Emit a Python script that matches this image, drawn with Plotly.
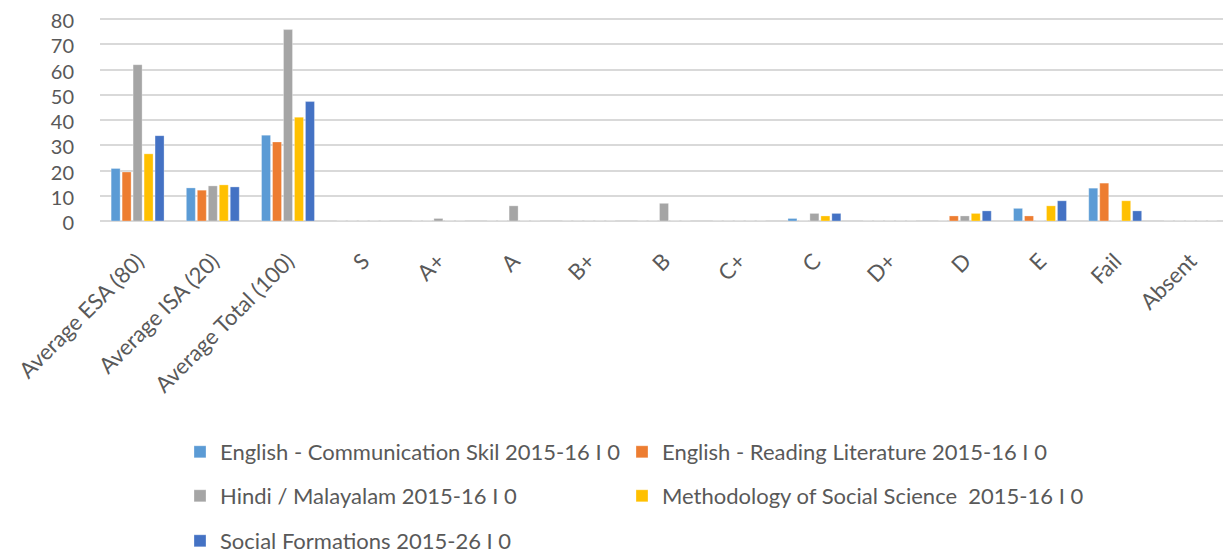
import plotly.graph_objects as go

categories = ["Average ESA (80)", "Average ISA (20)", "Average Total (100)", "S", "A+", "A", "B+", "B",
              "C+", "C", "D+", "D", "E", "Fail", "Absent"]

series_names = [
    "English - Communication Skil 2015-16 I 0",
    "English - Reading Literature 2015-16 I 0",
    "Hindi / Malayalam 2015-16 I 0",
    "Methodology of Social Science  2015-16 I 0",
    "Social Formations 2015-26 I 0",
]

eng_comm = [20.8, 13.1, 34.0, 0, 0, 0, 0, 0, 0, 1, 0, 0, 5, 13, 0]
eng_read = [19.4, 12.2, 31.3, 0, 0, 0, 0, 0, 0, 0, 0, 2, 2, 15, 0]
hindi = [61.9, 13.9, 75.8, 0, 1, 6, 0, 7, 0, 3, 0, 2, 0, 0, 0]
method = [26.6, 14.3, 41.1, 0, 0, 0, 0, 0, 0, 2, 0, 3, 6, 8, 0]
social = [33.8, 13.5, 47.3, 0, 0, 0, 0, 0, 0, 3, 0, 4, 8, 4, 0]

series_values = [eng_comm, eng_read, hindi, method, social]
colors = ["#5B9BD5", "#ED7D31", "#A5A5A5", "#FFC000", "#4472C4"]
legend_ids = ["legend", "legend2", "legend3", "legend4", "legend5"]

FONT = "Lato, Open Sans, sans-serif"

# page body has an 8px margin, so the figure is drawn 8px smaller and everything is offset
W, H = 1223, 548
L, R = 92, 3
plot_top = 10
plot_bottom = 213
h = plot_bottom - plot_top
pw = W - L - R

def ypos(py):
    return (plot_bottom - py) / h

def xpos(px):
    return (px - L) / pw

fig = go.Figure()
for name, vals, col, lg in zip(series_names, series_values, colors, legend_ids):
    fig.add_trace(go.Bar(
        x=categories, y=vals, name=name, legend=lg,
        marker=dict(color=col, line=dict(color="rgba(255,255,255,0.6)", width=0.5)),
    ))

legend_common = dict(
    orientation="v", xanchor="left", yanchor="middle",
    font=dict(family=FONT, size=22, color="#595959"),
    bgcolor="rgba(0,0,0,0)",
)

col1, col2 = xpos(172), xpos(614)
row1, row2, row3 = ypos(444), ypos(488), ypos(533)

fig.update_layout(
    width=W, height=H,
    margin=dict(l=L, r=R, t=plot_top, b=H - plot_bottom, autoexpand=False),
    plot_bgcolor="white", paper_bgcolor="white",
    barmode="group", bargap=0.27, bargroupgap=0.18,
    font=dict(family=FONT, size=22, color="#595959"),
    legend=dict(**legend_common, x=col1, y=row1),
    legend2=dict(**legend_common, x=col2, y=row1),
    legend3=dict(**legend_common, x=col1, y=row2),
    legend4=dict(**legend_common, x=col2, y=row2),
    legend5=dict(**legend_common, x=col1, y=row3),
    showlegend=True,
)
fig.update_xaxes(
    tickangle=-45, showgrid=False, showline=False, zeroline=False, automargin=False,
    tickfont=dict(family=FONT, size=22, color="#595959"), ticks="", ticklabelstandoff=22,
)
fig.update_yaxes(
    range=[0, 80.4], tickvals=[0, 10, 20, 30, 40, 50, 60, 70, 80], showgrid=True,
    gridcolor="#D9D9D9", gridwidth=1.5,
    zeroline=True, zerolinecolor="#D9D9D9", zerolinewidth=2, automargin=False,
    ticklabeloverflow="allow", ticklabelshift=2,
    tickfont=dict(family=FONT, size=20, color="#595959"), ticks="", ticklabelstandoff=25,
)

fig.write_html("out.html")
